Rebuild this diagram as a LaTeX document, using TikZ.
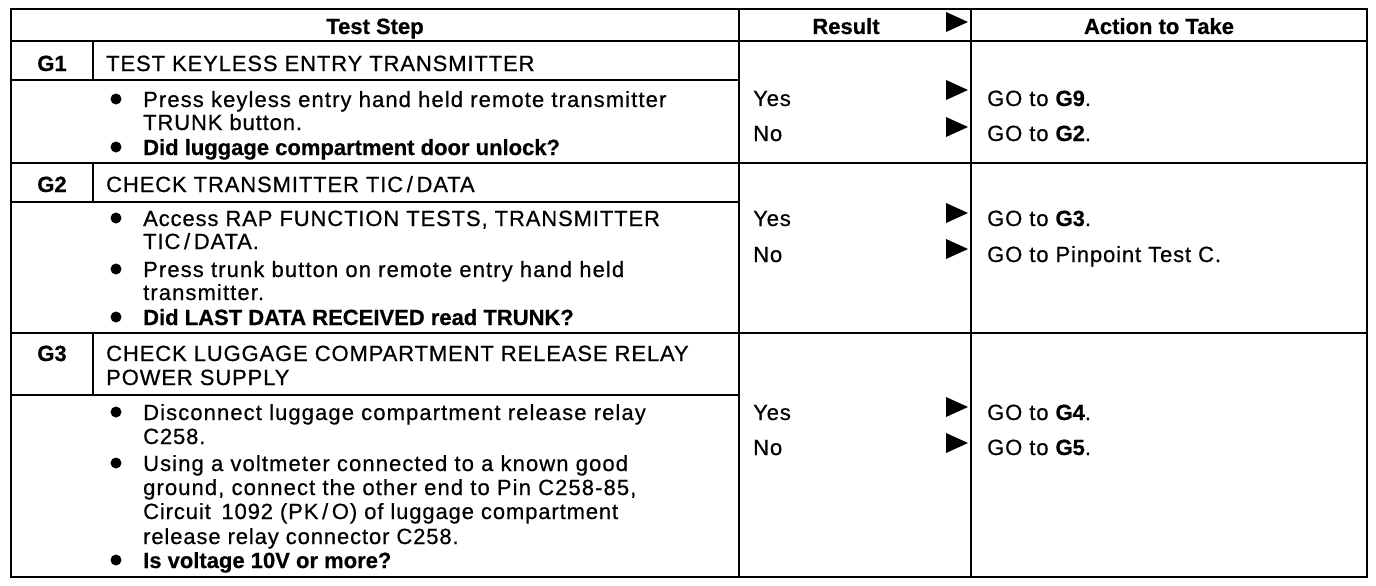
\documentclass[tikz,border=0pt]{standalone}
\usepackage{fontspec}
\setmainfont{Liberation Sans}
\newfontfamily\regf{Liberation Sans}[LetterSpace=4,FakeBold=0.6]
\newfontfamily\regl{Liberation Sans}[LetterSpace=5,FakeBold=0.6]
\newfontfamily\boldf{Liberation Sans Bold}[FakeBold=0.6]
\newcommand{\bt}[1]{{\boldf #1}}
\begin{document}
\begin{tikzpicture}[x=1pt,y=-1pt,
  txt/.style={anchor=base west,inner sep=0pt,font=\fontsize{22}{24}\regf},
  ltxt/.style={anchor=base west,inner sep=0pt,font=\fontsize{22}{24}\regl},
  btxt/.style={anchor=base west,inner sep=0pt,font=\fontsize{22}{24}\boldf},
  hdr/.style={anchor=base,inner sep=0pt,font=\fontsize{22}{24}\boldf},
  rule/.style={line width=2pt},
  tri/.style={fill=black},
  dot/.style={fill=black}]
\useasboundingbox (0,0) rectangle (1376,586);
\fill[white] (0,0) rectangle (1376,586);
% frame and lines
\draw[rule] (11,9) rectangle (1367,577);
\draw[rule] (739,9) -- (739,577);
\draw[rule] (971,9) -- (971,577);
\draw[rule] (11,41) -- (1367,41);
\draw[rule] (11,163) -- (1367,163);
\draw[rule] (11,333) -- (1367,333);
\draw[rule] (11,80) -- (739,80);
\draw[rule] (11,202) -- (739,202);
\draw[rule] (11,395) -- (739,395);
\draw[rule] (93,41) -- (93,80);
\draw[rule] (93,163) -- (93,202);
\draw[rule] (93,333) -- (93,395);
% header
\node[hdr] (hTest) at (375,34) {Test Step};
\node[hdr] (hRes) at (846,34) {Result};
\node[hdr] (hAct) at (1159,34) {Action to Take};
% triangles
\foreach \yy in {22,90,127,213,249,407,443}
  \fill[tri] (946,\yy-10) -- (968,\yy) -- (946,\yy+10) -- cycle;
% G labels
\node[hdr] (g1) at (52,71) {G1};
\node[hdr] (g2) at (52,192) {G2};
\node[hdr] (g3) at (52,361) {G3};
% titles
\node[txt] (t1) at (106,71) {TEST KEYLESS ENTRY TRANSMITTER};
\node[txt] (t2) at (106,192) {CHECK TRANSMITTER TIC\,/\,DATA};
\node[txt] (t3a) at (106,361) {CHECK LUGGAGE COMPARTMENT RELEASE RELAY};
\node[txt] (t3b) at (106,385) {POWER SUPPLY};
% bullets
\foreach \yy in {99,147,218,269,317,412,463,560}
  \fill[dot] (116,\yy) circle (5.5);
% G1 items
\node[ltxt] (a1) at (143,107) {Press keyless entry hand held remote transmitter};
\node[txt] (a2) at (143,130) {TRUNK button.};
\node[btxt] (a3) at (143,155) {Did luggage compartment door unlock?};
% G2 items
\node[txt] (b1) at (143,226) {Access RAP FUNCTION TESTS, TRANSMITTER};
\node[txt] (b2) at (143,249) {TIC\,/\,DATA.};
\node[ltxt] (b3) at (143,277) {Press trunk button on remote entry hand held};
\node[ltxt] (b4) at (143,300) {transmitter.};
\node[btxt] (b5) at (143,325) {Did LAST DATA RECEIVED read TRUNK?};
% G3 items
\node[ltxt] (c1) at (143,420) {Disconnect luggage compartment release relay};
\node[txt] (c2) at (143,444) {C258.};
\node[ltxt] (c3) at (143,471) {Using a voltmeter connected to a known good};
\node[ltxt] (c4) at (143,495) {ground, connect the other end to Pin C258-85,};
\node[txt] (c5) at (143,519) {Circuit\, 1092 (PK\,/\,O) of luggage compartment};
\node[txt] (c6) at (143,544) {release relay connector C258.};
\node[btxt] (c7) at (143,568) {Is voltage 10V or more?};
% results
\node[txt] (y1) at (753,106) {Yes};
\node[txt] (n1) at (753,141) {No};
\node[txt] (y2) at (753,226) {Yes};
\node[txt] (n2) at (753,262) {No};
\node[txt] (y3) at (753,420) {Yes};
\node[txt] (n3) at (753,455) {No};
% actions
\node[txt] (r1) at (987,106) {GO to \bt{G9}.};
\node[txt] (r2) at (987,141) {GO to \bt{G2}.};
\node[txt] (r3) at (987,226) {GO to \bt{G3}.};
\node[txt] (r4) at (987,262) {GO to Pinpoint Test C.};
\node[txt] (r5) at (987,420) {GO to \bt{G4}.};
\node[txt] (r6) at (987,455) {GO to \bt{G5}.};
\end{tikzpicture}
\end{document}
